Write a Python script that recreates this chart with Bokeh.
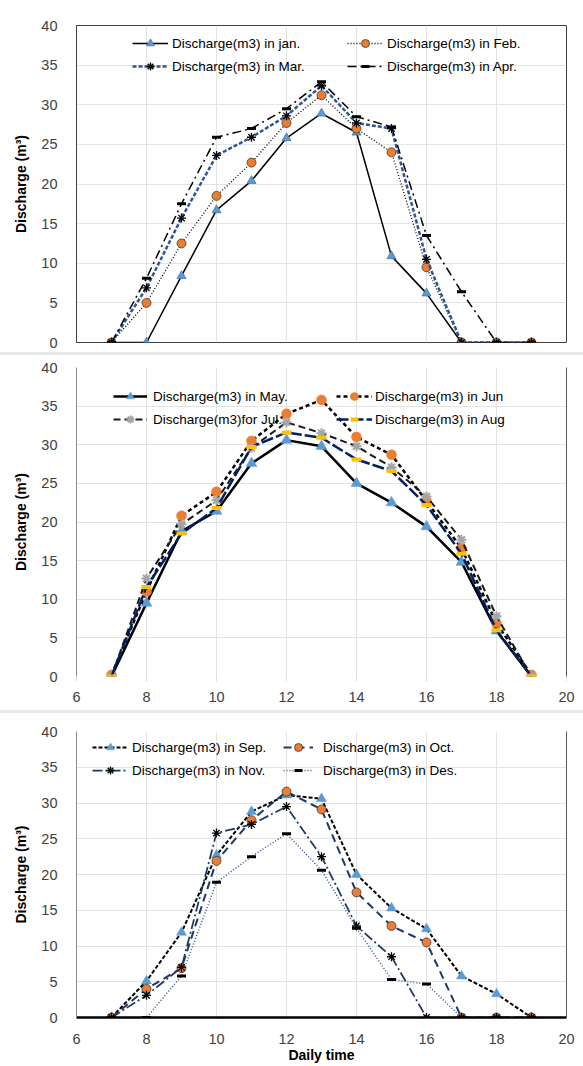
from bokeh.plotting import figure
from bokeh.models import (Range1d, SingleIntervalTicker, FixedTicker, LinearAxis, Legend, LegendItem, Spacer)
from bokeh.layouts import column
from bokeh.embed import file_html
from bokeh.resources import INLINE

# ---------------- data ----------------
hours = [7, 8, 9, 10, 11, 12, 13, 14, 15, 16, 17, 18, 19]

jan = [0, 0, 8.4, 16.7, 20.4, 25.8, 28.9, 26.5, 10.9, 6.2, 0, 0, 0]
feb = [0, 5.0, 12.5, 18.5, 22.7, 27.7, 31.2, 27.0, 24.0, 9.5, 0, 0, 0]
mar = [0, 6.9, 15.7, 23.6, 25.9, 28.6, 32.4, 27.7, 27.0, 10.5, 0, 0, 0]
apr = [0, 8.1, 17.5, 25.9, 27.0, 29.5, 32.9, 28.5, 27.2, 13.5, 6.4, 0, 0]

may = [0, 9.5, 18.8, 21.4, 27.6, 30.6, 29.8, 25.0, 22.5, 19.4, 14.8, 5.9, 0]
jun = [0.2, 11.0, 20.8, 23.9, 30.5, 34.0, 35.8, 31.0, 28.7, 22.7, 16.6, 6.9, 0.2]
jul = [0, 12.7, 19.7, 22.8, 29.6, 32.9, 31.5, 29.8, 27.1, 23.3, 17.7, 7.8, 0]
aug = [0, 11.6, 18.5, 21.8, 29.7, 31.6, 30.9, 28.1, 26.6, 22.2, 15.9, 6.0, 0]

sep = [0, 5.1, 11.9, 22.7, 28.8, 31.1, 30.6, 20.0, 15.3, 12.4, 5.8, 3.3, 0]
octo = [0, 4.0, 6.9, 21.9, 27.6, 31.6, 29.1, 17.5, 12.8, 10.5, 0, 0, 0]
nov = [0, 3.1, 7.0, 25.8, 27.0, 29.5, 22.5, 12.8, 8.5, 0, 0, 0, 0]
des = [0, 0, 5.8, 18.9, 22.5, 25.7, 20.6, 12.5, 5.3, 4.7, 0, 0, 0]

labels1 = ["Discharge(m3) in jan.", "Discharge(m3) in Feb.", "Discharge(m3) in Mar.", "Discharge(m3) in Apr."]
labels2 = ["Discharge(m3) in May.", "Discharge(m3) in Jun", "Discharge(m3)for Jul.", "Discharge(m3) in Aug"]
labels3 = ["Discharge(m3) in Sep.", "Discharge(m3) in Oct.", "Discharge(m3) in Nov.", "Discharge(m3) in Des."]

x_label = "Daily time"
y_label = "Discharge (m\u00b3)"

FONT = "Liberation Sans"
W = 583


def base_fig(height, top, bottom, show_x):
    p = figure(width=W, height=height, output_backend="svg", toolbar_location=None,
               x_range=Range1d(6, 20), y_range=Range1d(0, 40),
               min_border_left=76, min_border_right=17,
               min_border_top=top, min_border_bottom=bottom)
    p.background_fill_color = "white"
    p.border_fill_color = "white"
    p.outline_line_color = None
    p.xaxis.ticker = SingleIntervalTicker(interval=2)
    p.yaxis.ticker = SingleIntervalTicker(interval=5)
    p.xgrid.ticker = SingleIntervalTicker(interval=2)
    p.ygrid.ticker = SingleIntervalTicker(interval=5)
    p.xgrid.grid_line_color = "#E3E3E3"
    p.ygrid.grid_line_color = "#E3E3E3"
    for ax in (p.xaxis, p.yaxis):
        ax.major_label_text_font = FONT
        ax.major_label_text_font_size = "14.5px"
        ax.major_label_text_color = "#404040"
        ax.minor_tick_line_color = None
    p.yaxis.major_tick_line_color = None
    p.yaxis.major_label_standoff = 13
    p.yaxis.axis_label = y_label
    p.yaxis.axis_label_text_font = FONT
    p.yaxis.axis_label_text_font_size = "14px"
    p.yaxis.axis_label_text_font_style = "bold"
    p.yaxis.axis_label_text_color = "black"
    p.yaxis.axis_label_standoff = 9
    p.xaxis.visible = show_x
    return p


def right_line(p):
    ra = LinearAxis(ticker=FixedTicker(ticks=[]), major_tick_line_color=None,
                    minor_tick_line_color=None, axis_line_color="#595959", major_label_standoff=0)
    p.add_layout(ra, "right")


def add_series(p, y, line_color, line_width, dash, marker, msize, mfill, mline, mlw=1.0):
    r1 = p.line(hours, y, line_color=line_color, line_width=line_width, line_dash=dash)
    r2 = p.scatter(hours, y, marker=marker, size=msize, fill_color=mfill,
                   line_color=mline, line_width=mlw)
    return [r1, r2]


def add_legends(p, items, pos1, pos2, gw1, gw2, so1, so2):
    for its, pos, gw, so in ((items[0::2], pos1, gw1, so1), (items[1::2], pos2, gw2, so2)):
        lg = Legend(items=its, location=pos, orientation="vertical",
                    glyph_width=gw, glyph_height=20, label_height=20,
                    label_standoff=so, spacing=3, padding=0, margin=0,
                    border_line_alpha=0, background_fill_alpha=0,
                    label_text_font=FONT, label_text_font_size="13.5px",
                    label_text_color="black")
        p.add_layout(lg)


# ---------------- panel 1 ----------------
p1 = base_fig(352, 25, 10, False)
p1.outline_line_color = "#404040"
p1.outline_line_width = 1
p1.yaxis.axis_line_color = "#404040"
s_jan = add_series(p1, jan, "black", 1.5, "solid", "triangle", 9, "#5B9BD5", "#41719C", 0.75)
s_feb = add_series(p1, feb, "black", 1.3, "1 2", "circle", 9, "#ED7D31", "#333333", 0.75)
s_mar = add_series(p1, mar, "#2F5597", 2.5, "4 2", "asterisk", 9, None, "black", 1.3)
s_apr = add_series(p1, apr, "black", 1.5, "9 4 2 4", "dash", 9, None, "black", 3)
items1 = [LegendItem(label=l, renderers=r) for l, r in zip(labels1, [s_jan, s_feb, s_mar, s_apr])]
add_legends(p1, items1, (56, 266), (271, 266), 36, 36, 4, 4)

# ---------------- panel 2 ----------------
p2 = base_fig(355, 12, 34, True)
p2.yaxis.axis_line_color = "#8C8C8C"
p2.xaxis.axis_line_color = None
p2.xaxis.major_tick_line_color = "#D9D9D9"
p2.xaxis.major_tick_out = 5
p2.xaxis.major_tick_in = 0
p2.xaxis.major_label_standoff = 10
right_line(p2)
s_may = add_series(p2, may, "black", 2.5, "solid", "triangle", 11, "#5B9BD5", "#5B9BD5", 0.5)
s_jun = add_series(p2, jun, "black", 2.5, "4 3", "circle", 10, "#ED7D31", "#ED7D31", 0.5)
s_jul = add_series(p2, jul, "#1A1A1A", 2.0, "7 4", "asterisk", 10, None, "#A5A5A5", 2)
s_aug = add_series(p2, aug, "#002060", 2.5, "12 3", "dash", 10, None, "#FFC000", 4)
items2 = [LegendItem(label=l, renderers=r) for l, r in zip(labels2, [s_may, s_jun, s_jul, s_aug])]
add_legends(p2, items2, (37, 247), (260, 247), 34, 36, 6, 3)

# ---------------- panel 3 ----------------
p3 = base_fig(353, 18, 49, True)
p3.yaxis.axis_line_color = "#8C8C8C"
p3.xaxis.axis_line_color = "black"
p3.xaxis.axis_line_width = 2.5
p3.xaxis.major_tick_line_color = None
p3.xaxis.major_label_standoff = 10
p3.xaxis.axis_label = x_label
p3.xaxis.axis_label_text_font = FONT
p3.xaxis.axis_label_text_font_size = "14px"
p3.xaxis.axis_label_text_font_style = "bold"
p3.xaxis.axis_label_text_color = "black"
p3.xaxis.axis_label_standoff = 0
right_line(p3)
s_sep = add_series(p3, sep, "black", 2.0, "4 2", "triangle", 10, "#5B9BD5", "#5B9BD5", 0.5)
s_oct = add_series(p3, octo, "#1F3864", 2.0, "8 5", "circle", 9, "#ED7D31", "#333333", 0.75)
s_nov = add_series(p3, nov, "#1F3864", 1.75, "10 3 2 3", "asterisk", 9, None, "black", 1.3)
s_des = add_series(p3, des, "#2F5597", 1.5, "1 2", "dash", 9, None, "black", 3)
items3 = [LegendItem(label=l, renderers=r) for l, r in zip(labels3, [s_sep, s_oct, s_nov, s_des])]
add_legends(p3, items3, (16, 237), (207, 237), 36, 30, 4, 10)

sep1 = Spacer(width=W, height=3, styles={"background-color": "#E8E8E8"})
sep2 = Spacer(width=W, height=3, styles={"background-color": "#E8E8E8"})

layout = column(p1, sep1, p2, sep2, p3, spacing=0)
open("out.html", "w").write(file_html(layout, INLINE))
